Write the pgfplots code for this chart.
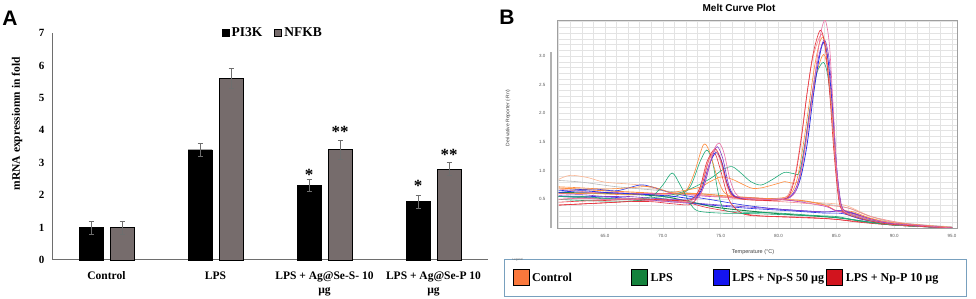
\documentclass[border=0pt]{standalone}
\usepackage{fontspec}
\setmainfont{Liberation Serif}
\newfontfamily\arialf{Liberation Sans}
\usepackage{pgfplots}
\pgfplotsset{compat=1.18}
\definecolor{barg}{RGB}{118,108,108}
\definecolor{errg}{RGB}{110,110,110}
\definecolor{cOr}{RGB}{255,140,60}
\definecolor{cOrL}{RGB}{250,180,145}
\definecolor{cGr}{RGB}{30,170,120}
\definecolor{cGrD}{RGB}{20,130,70}
\definecolor{cBl}{RGB}{40,50,230}
\definecolor{cPu}{RGB}{130,60,200}
\definecolor{cRe}{RGB}{230,50,60}
\definecolor{cPk}{RGB}{235,110,165}
\definecolor{cMa}{RGB}{200,60,190}
\definecolor{cGy}{RGB}{185,185,185}
\definecolor{cSa}{RGB}{245,140,140}
\definecolor{lgOr}{RGB}{250,120,60}
\definecolor{lgGr}{RGB}{20,130,60}
\definecolor{lgBl}{RGB}{20,20,240}
\definecolor{lgRe}{RGB}{210,20,30}
\definecolor{lgBox}{RGB}{120,160,190}
\begin{document}
\begin{tikzpicture}[x=1pt,y=1pt]
\path[use as bounding box] (0,0) rectangle (976,299);
\node[font=\arialf\bfseries\fontsize{21}{21}\selectfont] at (10,281) {A};
\node[font=\arialf\bfseries\fontsize{21}{21}\selectfont] at (507,282) {B};
% ---------------- Panel A ----------------
\begin{axis}[name=A, at={(52pt,39pt)}, anchor=south west, scale only axis,
  width=436pt, height=227pt,
  xmin=-0.5, xmax=3.5, ymin=0, ymax=7,
  axis lines=left, axis line style={errg, line width=1pt, -},
  ybar, bar width=24pt,
  ytick={0,1,...,7}, xtick={0,1,2,3},
  xticklabels={Control, LPS, {LPS + Ag@Se-S- 10\\µg}, {LPS + Ag@Se-P 10\\µg}},
  major tick length=0pt,
  /pgf/number format/assume math mode=true,
  yticklabel style={font=\bfseries\fontsize{11}{11}\selectfont, xshift=-4pt},
  xticklabel style={font=\bfseries\fontsize{11.5}{14}\selectfont, align=center, yshift=-8pt},
  ylabel={mRNA expressiomn in fold},
  ylabel style={font=\bfseries\fontsize{11.5}{12}\selectfont, at={(axis description cs:-0.08,0.6)}, anchor=center},
  legend columns=2,
  legend style={draw=none, fill=none, at={(0.507,1.0)}, anchor=center,
     font=\bfseries\fontsize{13.5}{14}\selectfont,
     /tikz/every even column/.append style={column sep=10pt}},
  legend image code/.code={\draw[#1, draw=black] (0pt,-3.5pt) rectangle (7pt,3.5pt);},
  clip=false]
\addplot[fill=black, draw=black, bar shift=-15.5pt,
  error bars/.cd, y dir=both, y explicit,
  error bar style={errg, line width=0.8pt},
  error mark options={errg, rotate=90, mark size=2.5pt, line width=0.8pt}]
  coordinates {(0,1.0) +- (0,0.2) (1,3.4) +- (0,0.2) (2,2.3) +- (0,0.2) (3,1.8) +- (0,0.2)};
\addplot[fill=barg, draw=black, line width=0.8pt, bar shift=15.5pt,
  error bars/.cd, y dir=both, y explicit,
  error bar style={errg, line width=0.8pt},
  error mark options={errg, rotate=90, mark size=2.5pt, line width=0.8pt}]
  coordinates {(0,1.0) +- (0,0.2) (1,5.6) +- (0,0.3) (2,3.4) +- (0,0.3) (3,2.8) +- (0,0.2)};
\legend{PI3K, NFKB}
\node[font=\bfseries\fontsize{17}{17}\selectfont] at ([xshift=-15.5pt]axis cs:2,2.62) {*};
\node[font=\bfseries\fontsize{17}{17}\selectfont] at ([xshift=-15.5pt]axis cs:3,2.29) {*};
\node[font=\bfseries\fontsize{17}{17}\selectfont] at ([xshift=15.5pt]axis cs:2,3.96) {**};
\node[font=\bfseries\fontsize{17}{17}\selectfont] at ([xshift=15.5pt]axis cs:3,3.24) {**};
\end{axis}
% ---------------- Panel B ----------------
\begin{axis}[name=B, at={(557pt,71pt)}, anchor=south west, scale only axis,
  width=400pt, height=208pt,
  xmin=60.85, xmax=95.43, ymin=0, ymax=3.63,
  axis line style={gray!75, line width=0.9pt},
  xtick={65,70,...,95}, ytick={0.5,1.0,...,3.0},
  minor xtick={61,62,...,95}, minor ytick={0.1,0.2,...,3.6},
  grid=both,
  major grid style={gray!22, line width=0.6pt},
  minor grid style={gray!22, line width=0.6pt},
  tick style={draw=none}, major tick length=0pt, minor tick length=0pt,
  /pgf/number format/assume math mode=true,
  /pgf/number format/fixed, /pgf/number format/fixed zerofill, /pgf/number format/precision=1,
  ticklabel style={font=\arialf\fontsize{4.5}{5}\selectfont, text=black!65},
  yticklabel style={xshift=-8pt},
  xticklabel style={yshift=-3pt},
  title={Melt Curve Plot},
  title style={font=\arialf\bfseries\fontsize{10}{10}\selectfont, at={(axis description cs:0.455,1.0)}, anchor=center, yshift=6pt},
  xlabel={Temperature (°C)},
  xlabel style={font=\arialf\fontsize{5.5}{6}\selectfont, text=black!75, at={(axis description cs:0.49,-0.115)}, anchor=center},
  ylabel={Derivative Reporter (-Rn')},
  ylabel style={font=\arialf\fontsize{5}{6}\selectfont, text=black!75, at={(axis description cs:-0.1225,0.53)}, anchor=center},
  legend columns=4,
  legend image code/.code={\fill[#1] (0pt,-8pt) rectangle (16pt,8pt);},
  legend style={at={(-0.1325,-0.149)}, anchor=north west, draw=lgBox, line width=1pt,
     inner xsep=8pt, inner ysep=10pt,
     font=\bfseries\fontsize{12}{12}\selectfont,
     nodes={inner xsep=3pt},
     /tikz/every even column/.append style={column sep=0pt}},
  legend cell align=left,
  every axis plot/.append style={line width=0.6pt, smooth, forget plot}]
% ---- low baseline curves ----
\addplot[cOrL] coordinates {(61,0.85)(62,0.92)(63.5,0.88)(65,0.8)(68,0.75)(70,0.65)(72,0.6)(75,0.55)(78,0.52)(80,0.5)(83,0.45)(85,0.42)(86,0.38)(88,0.2)(90,0.1)(92,0.05)(95,0.02)};
\addplot[cGy] coordinates {(61,0.83)(63,0.8)(66,0.72)(70,0.65)(73,0.6)(76,0.55)(80,0.5)(84,0.42)(86,0.35)(88,0.2)(90,0.1)(95,0.02)};
\addplot[cOr, line width=0.9pt] coordinates {(61,0.7)(65,0.65)(68,0.62)(70,0.6)(73,0.6)(76,0.55)(80,0.5)(82,0.48)(84,0.4)(85,0.3)(86,0.28)(88,0.16)(90,0.08)(95,0.0)};
\addplot[cBl] coordinates {(61,0.65)(64,0.68)(66,0.65)(68,0.75)(69,0.72)(71,0.6)(74,0.5)(77,0.4)(80,0.33)(84,0.28)(85.5,0.3)(87,0.18)(90,0.06)(95,0.0)};
\addplot[cPu] coordinates {(61,0.55)(65,0.52)(69,0.5)(72,0.45)(75,0.4)(80,0.33)(84,0.28)(85.5,0.3)(88,0.15)(90,0.07)(95,0.0)};
\addplot[cGrD, line width=0.9pt] coordinates {(61,0.62)(66,0.6)(70,0.55)(72.5,0.45)(75,0.35)(80,0.25)(85,0.18)(88,0.1)(91,0.05)(95,0.0)};
\addplot[cRe] coordinates {(61,0.4)(63,0.42)(66,0.45)(70,0.5)(72,0.45)(74,0.35)(78,0.22)(82,0.18)(85,0.15)(90,0.05)(95,0.0)};
\addplot[cMa] coordinates {(61,0.6)(65,0.62)(68,0.6)(71,0.6)(74,0.55)(78,0.52)(81,0.48)(84,0.38)(85,0.3)(87,0.2)(90,0.08)(95,0.0)};
\addplot[cSa] coordinates {(61,0.68)(64,0.62)(67,0.6)(70,0.58)(73,0.58)(77,0.5)(81,0.45)(84,0.4)(86,0.35)(88,0.2)(91,0.08)(95,0.01)};
\addplot[cBl] coordinates {(61,0.55)(64,0.55)(67,0.52)(70,0.47)(73,0.42)(77,0.35)(81,0.3)(84,0.26)(85.6,0.25)(88,0.12)(95,0.0)};
% ---- curves with 74 degree peak only ----
\addplot[cGr] coordinates {(61,0.5)(63,0.48)(65,0.47)(67,0.47)(69,0.5)(71,0.55)(72.3,0.7)(73.2,1.15)(73.8,1.36)(74.3,1.15)(74.8,0.6)(75.3,0.32)(76.5,0.28)(78.5,0.27)(80,0.26)(83,0.22)(85,0.18)(86,0.16)(88,0.1)(90,0.05)(95,0.0)};
\addplot[cRe] coordinates {(61,0.4)(63,0.42)(65,0.44)(67,0.46)(69,0.46)(71,0.42)(72.5,0.42)(73.3,0.7)(74,1.2)(74.5,1.3)(75,1.0)(75.7,0.5)(76.5,0.3)(77.5,0.22)(80,0.2)(83,0.18)(85,0.15)(87,0.1)(90,0.05)(95,0.0)};
\addplot[cGr] coordinates {(61,0.55)(63,0.55)(65,0.52)(67,0.5)(69,0.55)(70,0.75)(70.8,0.96)(71.5,0.75)(72.3,0.45)(73,0.3)(75,0.26)(78,0.25)(82,0.22)(85,0.2)(87,0.12)(90,0.05)(95,0.0)};
% ---- curves with main product peak ----
\addplot[cGr] coordinates {(61,0.55)(64,0.52)(67,0.5)(70,0.55)(72,0.65)(74,0.85)(75.2,1.02)(76,1.07)(76.8,0.95)(77.6,0.81)(78.5,0.75)(79.5,0.85)(80.5,0.97)(81.3,0.95)(81.8,0.97)(82.3,1.5)(82.8,2.2)(83.3,2.7)(83.9,2.89)(84.3,2.6)(84.7,1.8)(85.0,1.0)(85.3,0.5)(85.6,0.3)(86.5,0.22)(88,0.13)(90,0.06)(95,0.0)};
\addplot[cOr] coordinates {(61,0.6)(64,0.6)(67,0.58)(70,0.6)(73,0.7)(74,0.8)(75,0.89)(76,0.85)(77.6,0.7)(78.5,0.7)(80,0.78)(80.5,0.81)(81.7,0.81)(82.2,1.3)(82.7,2.0)(83.3,2.7)(83.9,3.03)(84.3,2.7)(84.7,1.8)(85.0,1.0)(85.3,0.5)(85.6,0.3)(86.5,0.26)(88,0.15)(90,0.07)(95,0.0)};
\addplot[cOr] coordinates {(61,0.72)(63,0.7)(65,0.68)(67,0.7)(69,0.72)(71,0.6)(72,0.65)(72.7,0.95)(73.5,1.45)(74,1.35)(74.6,0.95)(75.2,0.65)(76,0.55)(78,0.52)(80,0.52)(81,0.58)(81.6,0.85)(82.1,1.4)(82.6,2.1)(83.1,2.8)(83.5,3.2)(83.85,3.33)(84.2,3.05)(84.6,2.1)(84.95,1.1)(85.3,0.5)(85.6,0.32)(86.5,0.28)(88,0.17)(90,0.09)(95,0.01)};
\addplot[cBl, line width=0.8pt] coordinates {(61,0.62)(63,0.65)(65,0.62)(67,0.6)(69,0.58)(71,0.55)(72.5,0.52)(73.3,0.65)(74,1.1)(74.6,1.32)(75.1,1.15)(75.6,0.75)(76.2,0.55)(77.5,0.5)(79.5,0.5)(80.8,0.52)(81.5,0.65)(82,0.95)(82.5,1.5)(83,2.3)(83.5,2.95)(83.9,3.24)(84.3,2.9)(84.7,2.0)(85.0,1.1)(85.3,0.5)(85.6,0.3)(86.5,0.25)(88,0.15)(90,0.07)(95,0.0)};
\addplot[cPu] coordinates {(61,0.57)(63,0.58)(65,0.55)(67,0.55)(69,0.52)(71,0.5)(72.7,0.5)(73.5,0.7)(74.2,1.2)(74.7,1.42)(75.2,1.2)(75.7,0.75)(76.3,0.55)(78,0.5)(80,0.5)(81,0.55)(81.6,0.75)(82.1,1.2)(82.6,1.9)(83.1,2.6)(83.6,3.1)(84.0,3.28)(84.4,2.9)(84.75,1.9)(85.05,1.0)(85.35,0.5)(85.6,0.32)(86.5,0.26)(88,0.15)(90,0.07)(95,0.0)};
\addplot[cSa] coordinates {(61,0.5)(63,0.52)(65,0.5)(67,0.52)(69,0.5)(71,0.47)(72.5,0.48)(73.2,0.7)(73.9,1.15)(74.5,1.35)(75,1.15)(75.5,0.75)(76,0.55)(77,0.5)(79,0.5)(80.5,0.52)(81,0.65)(81.5,1.0)(82,1.65)(82.5,2.4)(83,3.0)(83.7,3.38)(84.1,3.1)(84.5,2.3)(84.85,1.3)(85.2,0.55)(85.6,0.3)(86.5,0.22)(88,0.13)(90,0.06)(95,0.0)};
\addplot[cRe] coordinates {(61,0.45)(63,0.47)(65,0.48)(67,0.5)(69,0.5)(71,0.48)(72.5,0.5)(73.2,0.7)(73.8,1.15)(74.5,1.38)(75,1.2)(75.5,0.8)(76,0.57)(77,0.5)(79,0.48)(80.5,0.5)(81,0.6)(81.5,0.95)(82,1.6)(82.5,2.4)(83,3.05)(83.6,3.45)(84.0,3.2)(84.4,2.4)(84.8,1.3)(85.2,0.5)(85.6,0.28)(86.5,0.2)(88,0.12)(90,0.06)(95,0.0)};
\addplot[cPk] coordinates {(61,0.5)(63,0.52)(65,0.5)(67,0.5)(69,0.48)(71,0.45)(72.5,0.45)(73.3,0.6)(74,1.1)(74.5,1.4)(74.9,1.48)(75.3,1.3)(75.8,0.85)(76.3,0.6)(77,0.52)(79,0.5)(80.5,0.5)(81.3,0.58)(81.8,0.85)(82.3,1.4)(82.8,2.1)(83.3,2.9)(83.7,3.45)(84.05,3.62)(84.4,3.2)(84.7,2.2)(85.0,1.1)(85.3,0.5)(85.6,0.3)(86.5,0.24)(88,0.15)(90,0.08)(92,0.05)(95,0.0)};
% ---- legend ----
\addlegendimage{fill=lgOr}\addlegendentry{\makebox[96pt][l]{Control}}
\addlegendimage{fill=lgGr}\addlegendentry{\makebox[59pt][l]{LPS}}
\addlegendimage{fill=lgBl}\addlegendentry{\makebox[91pt][l]{LPS + Np-S 50 µg}}
\addlegendimage{fill=lgRe}\addlegendentry{\makebox[110pt][l]{LPS + Np-P 10 µg}}
\end{axis}
\draw[gray!60, line width=1.2pt] ([xshift=-6pt]B.south west) -- ++(0,176pt);
\node[font=\arialf\fontsize{3}{3}\selectfont, text=black!60, anchor=west] at (509,39) {Legend};
\end{tikzpicture}
\end{document}
